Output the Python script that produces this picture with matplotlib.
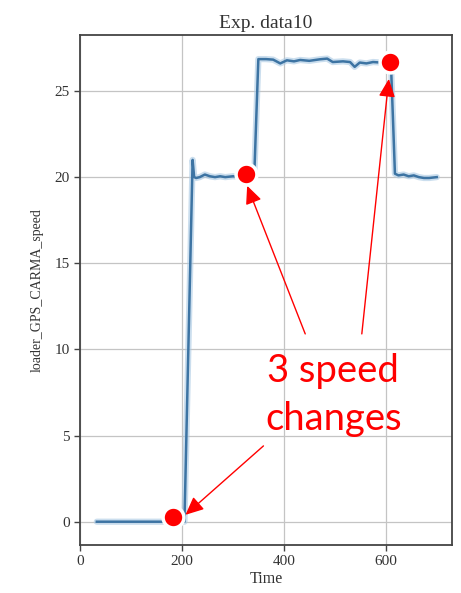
import matplotlib
matplotlib.use("Agg")
import matplotlib.pyplot as plt

# ---- data ----
time = [33, 60, 100, 150, 205, 213, 221, 224, 228, 235, 245, 255, 265, 275, 285,
        300, 320, 335, 342, 346, 350, 365, 379, 393, 406, 420, 432, 450, 471, 485,
        496, 516, 530, 539, 549, 562, 575, 590, 605, 610, 614, 618, 625, 635, 645,
        655, 665, 675, 685, 700]
speed = [0, 0, 0, 0, 0, 10.5, 21.0, 20.0, 19.95, 20.0, 20.15, 20.05, 20.0, 20.05, 20.0,
         20.05, 20.0, 20.05, 20.1, 23.5, 26.85, 26.85, 26.82, 26.6, 26.78, 26.72, 26.8, 26.75, 26.84, 26.88,
         26.68, 26.72, 26.68, 26.4, 26.65, 26.6, 26.68, 26.65, 26.7, 26.7, 23.5, 20.2, 20.1, 20.15, 20.05,
         20.1, 20.0, 19.95, 19.95, 20.0]

change_t = [182, 326, 608]
change_v = [0.3, 20.2, 26.7]

arrow_tips = [(207, 0.4), (328, 19.5), (606, 25.7)]
arrow_tails = [(360, 4.4), (442, 10.9), (553, 10.9)]

xticks = [0, 200, 400, 600]
yticks = [0, 5, 10, 15, 20, 25]

serif = ["Liberation Serif", "DejaVu Serif"]

fig = plt.figure(figsize=(4.61, 5.93), dpi=100)
ax = fig.add_axes([0.1735, 0.081, 0.807, 0.860])

ax.plot(time, speed, color="#a9c9e3", lw=4.5, alpha=0.6, solid_capstyle="round")
ax.plot(time, speed, color="#3d74a3", lw=1.8)

ax.set_xlim(0, 730)
ax.set_ylim(-1.35, 28.25)
ax.set_xticks(xticks)
ax.set_yticks(yticks)
ax.grid(True, color="#c4c4c4", lw=0.9)
ax.set_axisbelow(True)
for s in ax.spines.values():
    s.set_color("#444444")
    s.set_linewidth(1.3)
ax.tick_params(colors="#444444", labelsize=11, length=4, width=1)
for lab in ax.get_xticklabels() + ax.get_yticklabels():
    lab.set_family(serif)
    lab.set_color("#333333")

ax.set_title("Exp. data10", family=serif, fontsize=14, color="#333333", pad=5)
ax.set_xlabel("Time", family=serif, fontsize=11.5, color="#333333", labelpad=2)
ax.set_ylabel("loader_GPS_CARMA_speed", family=serif, fontsize=10, color="#333333", labelpad=8)

# annotations
for (tx, ty), (sx, sy) in zip(arrow_tips, arrow_tails):
    ax.annotate("", xy=(tx, ty), xytext=(sx, sy),
                arrowprops=dict(arrowstyle="-|>,head_length=1.1,head_width=0.5",
                                color="#ff0000", lw=1.0, shrinkA=0, shrinkB=0),
                annotation_clip=False)

ax.plot(change_t, change_v, "o", color="#ff0000", markersize=15,
        markeredgecolor="white", markeredgewidth=2.5, clip_on=False, zorder=5)

ax.text(496, 8.1, "3 speed", color="#ff0000", fontsize=27.5, family=["Lato", "DejaVu Sans"],
        ha="center", va="baseline", zorder=6)
ax.text(497, 5.33, "changes", color="#ff0000", fontsize=27.5, family=["Lato", "DejaVu Sans"],
        ha="center", va="baseline", zorder=6)

fig.savefig("out.png", dpi=100)
